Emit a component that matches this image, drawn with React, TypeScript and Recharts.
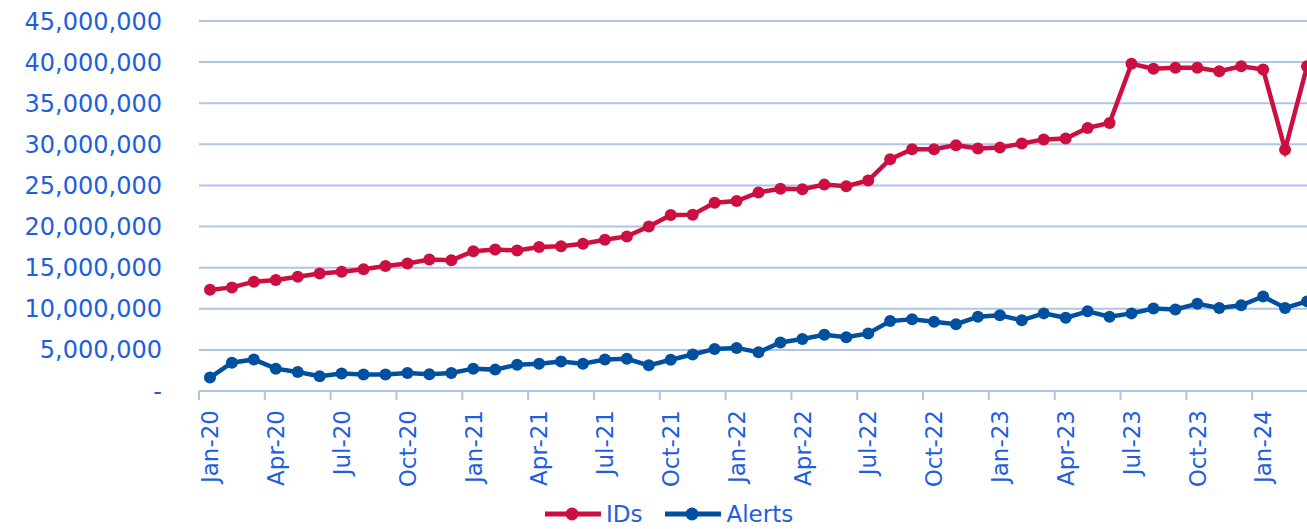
import React from 'react';
import { LineChart, Line, XAxis, YAxis, CartesianGrid, Legend } from 'recharts';

const months = ['Jan','Feb','Mar','Apr','May','Jun','Jul','Aug','Sep','Oct','Nov','Dec'];
const years = ['20','21','22','23','24'];
const categories: string[] = [];
years.forEach((y) => months.forEach((m) => categories.push(`${m}-${y}`)));
const cats = categories.slice(0, 51); // Jan-20 .. Mar-24

const ids = [
  12.3, 12.6, 13.3, 13.5, 13.9, 14.3, 14.5, 14.8, 15.2, 15.5, 16.0, 15.9,
  17.0, 17.2, 17.1, 17.5, 17.6, 17.9, 18.4, 18.8, 20.0, 21.4, 21.45, 22.9,
  23.1, 24.15, 24.6, 24.55, 25.1, 24.9, 25.6, 28.2, 29.4, 29.4, 29.9, 29.5,
  29.6, 30.1, 30.6, 30.7, 32.0, 32.6, 39.8, 39.2, 39.3, 39.3, 38.9, 39.5,
  39.1, 29.35, 39.5,
];
const alerts = [
  1.64, 3.44, 3.84, 2.72, 2.31, 1.8, 2.12, 2.0, 2.0, 2.2, 2.04, 2.2,
  2.72, 2.6, 3.2, 3.32, 3.6, 3.32, 3.84, 3.92, 3.12, 3.8, 4.44, 5.12,
  5.24, 4.71, 5.91, 6.32, 6.83, 6.55, 7.0, 8.5, 8.72, 8.43, 8.12, 9.03,
  9.2, 8.6, 9.44, 8.9, 9.7, 9.03, 9.44, 10.04, 9.92, 10.6, 10.1, 10.43,
  11.5, 10.1, 10.9,
];
const yTicks = [0, 5e6, 10e6, 15e6, 20e6, 25e6, 30e6, 35e6, 40e6, 45e6];

const data = cats.map((c, i) => ({ month: c, IDs: ids[i] * 1e6, Alerts: alerts[i] * 1e6 }));

const RED = '#CC0F40';
const BLUE = '#0050A0';
const TEXT = '#1F5FDF';
const GRID = '#B0C4E8';

const CHART_W = 1318;
const CHART_H = 529;
const Y_W = 199;
const BAND = (CHART_W - Y_W) / cats.length;

const fmtY = (v: number) => (v === 0 ? '-' : v.toLocaleString('en-US'));

const XTick = (props: any) => {
  const { x, y, payload } = props;
  return (
    <g transform={`translate(${x},${y})`}>
      <line x1={-BAND / 2} x2={-BAND / 2} y1={0} y2={9} stroke={GRID} strokeWidth={2} />
      <text
        transform="rotate(-90)"
        x={-19}
        y={0}
        dy="0.36em"
        textAnchor="end"
        fill={TEXT}
        fontSize={23}
        fontFamily="DejaVu Sans"
      >
        {payload.value}
      </text>
    </g>
  );
};

const LegendContent = () => {
  const item = (color: string, label: string, gap: number) => (
    <div style={{ display: 'flex', alignItems: 'center', marginRight: gap }}>
      <svg width={58} height={16} style={{ marginRight: 4 }}>
        <line x1={1} x2={57} y1={8} y2={8} stroke={color} strokeWidth={5} />
        <circle cx={28} cy={8} r={6.5} fill={color} />
      </svg>
      <span style={{ color: TEXT, fontSize: 23, fontFamily: 'DejaVu Sans', lineHeight: '22px' }}>{label}</span>
    </div>
  );
  return (
    <div style={{ display: 'flex', alignItems: 'center' }}>
      {item(RED, 'IDs', 22)}
      {item(BLUE, 'Alerts', 0)}
    </div>
  );
};

export default function App() {
  return (
    <div style={{ position: 'fixed', left: 0, top: 0, width: 1307, height: 529, overflow: 'hidden', background: '#fff' }}>
      <LineChart width={CHART_W} height={CHART_H} data={data} margin={{ top: 21, right: 0, bottom: 0, left: 0 }}>
        <CartesianGrid vertical={false} stroke={GRID} strokeWidth={2} />
        <XAxis
          dataKey="month"
          scale="band"
          interval={2}
          height={138}
          tickSize={0}
          tickMargin={0}
          tickLine={false}
          axisLine={{ stroke: GRID, strokeWidth: 2 }}
          tick={<XTick />}
        />
        <YAxis
          width={Y_W}
          domain={[0, 45e6]}
          ticks={yTicks}
          tickFormatter={fmtY}
          axisLine={false}
          tickLine={false}
          tickMargin={31}
          tick={{ fill: TEXT, fontSize: 24, fontFamily: 'DejaVu Sans' }}
        />
        <Legend
          verticalAlign="middle"
          align="center"
          layout="horizontal"
          wrapperStyle={{ top: 503, left: 544, width: 300 }}
          content={<LegendContent />}
        />
        <Line
          type="linear"
          dataKey="IDs"
          stroke={RED}
          strokeWidth={4.5}
          dot={{ r: 6, fill: RED, stroke: RED, strokeWidth: 0 }}
          isAnimationActive={false}
        />
        <Line
          type="linear"
          dataKey="Alerts"
          stroke={BLUE}
          strokeWidth={4.5}
          dot={{ r: 6, fill: BLUE, stroke: BLUE, strokeWidth: 0 }}
          isAnimationActive={false}
        />
      </LineChart>
    </div>
  );
}
